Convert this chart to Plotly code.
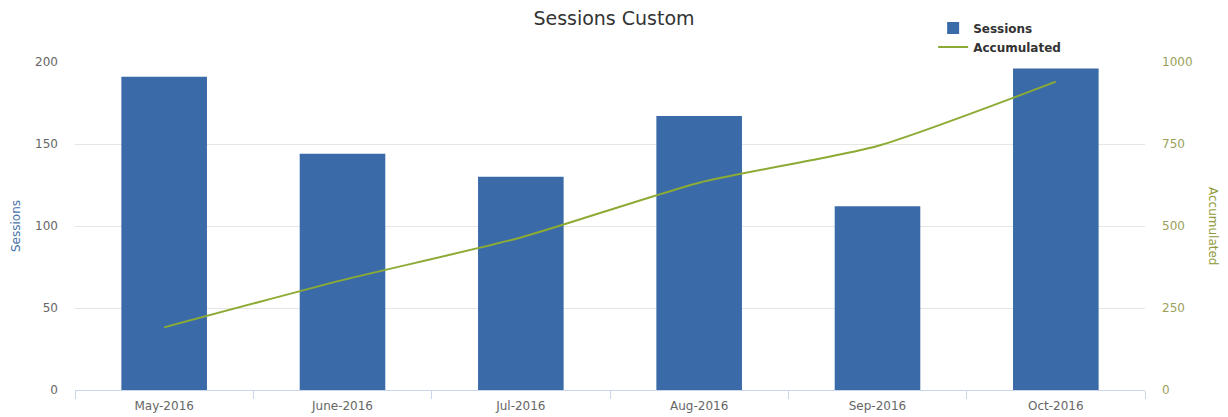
import plotly.graph_objects as go

months = ["May-2016", "June-2016", "Jul-2016", "Aug-2016", "Sep-2016", "Oct-2016"]
sessions = [191, 144, 130, 167, 112, 196]
accumulated = [191, 335, 465, 632, 744, 940]

left_ticks = [0, 50, 100, 150, 200]
right_ticks = [0, 250, 500, 750, 1000]

BAR = "#3a6ba8"
LINE = "#8cab35"
FONT = "DejaVu Sans"

fig = go.Figure()
fig.add_trace(go.Bar(
    x=months, y=sessions, name="Sessions",
    marker=dict(color=BAR, line=dict(width=0)),
    yaxis="y",
))
fig.add_trace(go.Scatter(
    x=months, y=accumulated, name="Accumulated",
    mode="lines", line=dict(color=LINE, width=2, shape="spline", smoothing=0.6),
    yaxis="y2",
))

fig.update_layout(
    width=1228, height=417,
    margin=dict(l=75, r=83, t=62, b=27),
    paper_bgcolor="white", plot_bgcolor="white",
    font=dict(family=FONT, size=12, color="#666666"),
    bargap=0.52,
    title=dict(text="Sessions Custom", x=0.5, xanchor="center", y=0.955, yanchor="middle",
               font=dict(family=FONT, size=19, color="#333333")),
    showlegend=True,
    legend=dict(x=0.802, xanchor="left", y=1.148, yanchor="top",
                font=dict(family=FONT, size=12, color="#333333", weight="bold"),
                bgcolor="rgba(0,0,0,0)", tracegroupgap=0, itemwidth=30),
    xaxis=dict(
        automargin=False,
        showgrid=False, showline=True, linecolor="#ccd6eb", linewidth=1,
        ticks="outside", tickson="boundaries", ticklen=8, tickcolor="#ccd6eb",
        ticklabelstandoff=5,
        tickfont=dict(size=12, color="#666666"),
    ),
    yaxis=dict(
        automargin=False,
        range=[0, 200], tickvals=left_ticks, showgrid=True, gridcolor="#e6e6e6",
        zeroline=False, showline=False, ticks="", ticklabelstandoff=16,
        tickfont=dict(size=12, color="#666666"),
        title=dict(text="Sessions", font=dict(size=12, color="#4572a7"), standoff=11),
    ),
    yaxis2=dict(
        automargin=False,
        range=[0, 1000], tickvals=right_ticks, overlaying="y", side="right",
        showgrid=False, zeroline=False, showline=False, ticks="", ticklabelstandoff=16,
        tickfont=dict(size=12, color="#9a9f5a"),
    ),
    annotations=[dict(
        text="Accumulated", textangle=90, xref="paper", yref="paper",
        x=1.0 + (1213 - 1145) / 1070, y=0.5, xanchor="center", yanchor="middle",
        showarrow=False, font=dict(family=FONT, size=12, color="#8f9a3a"),
    )],
)

fig.write_html("out.html")
